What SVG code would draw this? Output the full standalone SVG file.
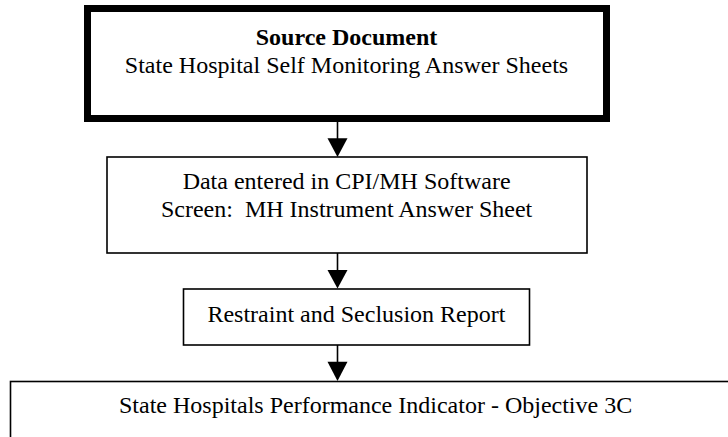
<svg xmlns="http://www.w3.org/2000/svg" width="728" height="437" viewBox="0 0 728 437">
<style>
  .box { fill: #ffffff; stroke: #000000; stroke-width: 1.6; }
  .thick { fill: #ffffff; stroke: #000000; stroke-width: 7; }
  .t { font-family: "Liberation Serif", "Times New Roman", serif; font-size: 24px; fill: #000000; text-anchor: middle; }
  .b { font-weight: bold; }
  .conn { stroke: #000000; stroke-width: 1.6; fill: none; }
  .head { fill: #000000; stroke: none; }
</style>
<rect width="728" height="437" fill="#ffffff"/>
<g id="source-document">
  <rect class="thick" x="87.5" y="8.5" width="519" height="110"/>
  <text class="t b" x="346.5" y="45">Source Document</text>
  <text class="t" x="346.5" y="72.7">State Hospital Self Monitoring Answer Sheets</text>
</g>
<g id="data-entered">
  <rect class="box" x="107" y="157" width="480" height="96"/>
  <text class="t" x="346.6" y="189">Data entered in CPI/MH Software</text>
  <text class="t" x="346.6" y="216.7" xml:space="preserve">Screen:  MH Instrument Answer Sheet</text>
</g>
<g id="report">
  <rect class="box" x="183.5" y="289" width="346" height="56"/>
  <text class="t" x="356.4" y="321.7">Restraint and Seclusion Report</text>
</g>
<g id="indicator">
  <rect class="box" x="10.5" y="381.5" width="800" height="100"/>
  <text class="t" x="375.6" y="413.3">State Hospitals Performance Indicator - Objective 3C</text>
</g>
<g id="connectors">
  <line class="conn" x1="337.5" y1="122" x2="337.5" y2="140"/>
  <polygon class="head" points="327.5,138.3 347.5,138.3 337.5,157"/>
  <line class="conn" x1="337.5" y1="253" x2="337.5" y2="272"/>
  <polygon class="head" points="327.5,270 347.5,270 337.5,288.5"/>
  <line class="conn" x1="337.5" y1="345" x2="337.5" y2="363"/>
  <polygon class="head" points="327.5,361.7 347.5,361.7 337.5,381"/>
</g>
</svg>
